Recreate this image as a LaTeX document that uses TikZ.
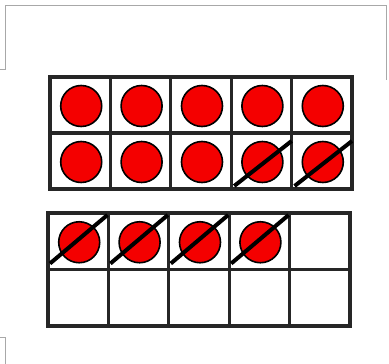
\documentclass[tikz,border=0pt]{standalone}
\usetikzlibrary{calc}
\definecolor{gridgray}{HTML}{262626}
\definecolor{framegray}{HTML}{A8A8A8}
\definecolor{dotred}{HTML}{F40000}
\tikzset{
  cellbox/.style={draw=gridgray, line width=3.2pt, fill=white, minimum width=60.4pt, minimum height=56pt, inner sep=0pt, outer sep=0pt},
  counter/.style={circle, draw=black, line width=1.6pt, fill=dotred, minimum size=41pt, inner sep=0pt},
  slash/.style={draw=black, line width=4pt},
  frameline/.style={draw=framegray, line width=1pt}
}
\begin{document}
\begin{tikzpicture}[x=1pt,y=-1pt]
\useasboundingbox (0,0) rectangle (389,364);
\fill[white] (0,0) rectangle (389,364);
% faint frame
\draw[frameline] (0,69) -- (5,69) -- (5,5) -- (386,5) -- (386,80);
\draw[frameline] (0,337) -- (5,337) -- (5,364);
% first ten frame
\foreach \r in {1,2} {
  \foreach \c in {1,...,5} {
    \node[cellbox] (a\r\c) at ({50+30.2+60.4*(\c-1)}, {77+28+56*(\r-1)}) {};
  }
}
\foreach \n in {11,12,13,14,15,21,22,23,24,25} {
  \node[counter] (ca\n) at ($(a\n)+(1,1)$) {};
}
\foreach \n in {24,25} {
  \draw[slash] ($(a\n.south west)+(3,-3)$) -- ($(a\n.north east)+(0,8)$);
}
% second ten frame
\foreach \r in {1,2} {
  \foreach \c in {1,...,5} {
    \node[cellbox, minimum height=56.5pt] (b\r\c) at ({48+30.2+60.4*(\c-1)}, {213+28.25+56.5*(\r-1)}) {};
  }
}
\foreach \n in {11,12,13,14} {
  \node[counter] (cb\n) at ($(b\n)+(1,1)$) {};
  \draw[slash] ($(b\n.south west)+(2,-6)$) -- ($(b\n.north east)+(-1,2)$);
}
\end{tikzpicture}
\end{document}
